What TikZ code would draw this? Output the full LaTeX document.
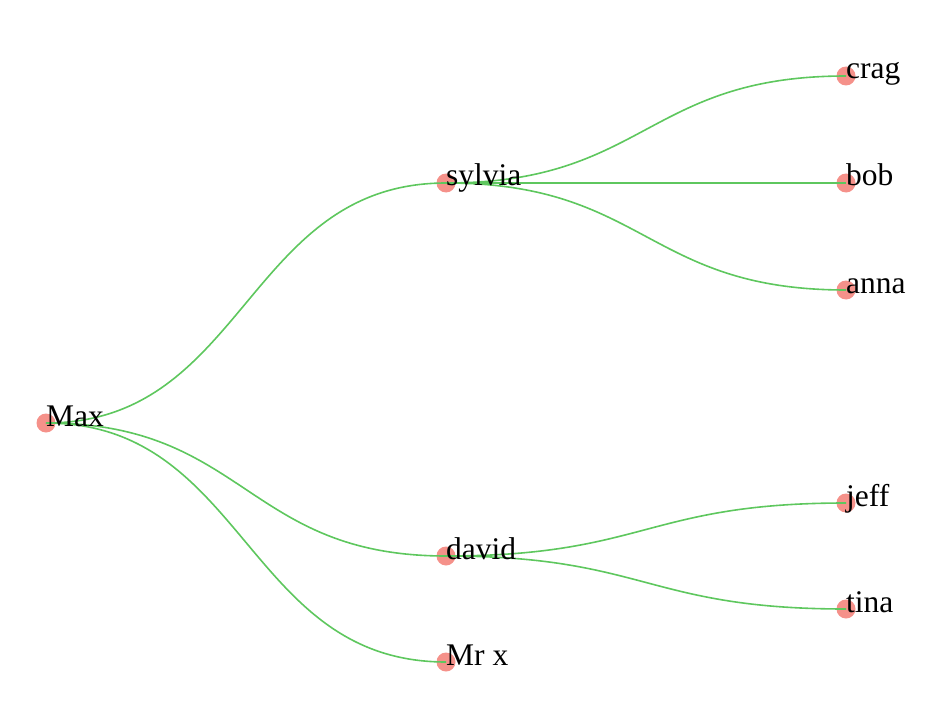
\documentclass[tikz,border=0pt]{standalone}
\usepackage{fontspec}
\setmainfont{Liberation Serif}
\definecolor{dotc}{HTML}{F5918A}
\definecolor{linkc}{HTML}{5EC75E}
\begin{document}
\begin{tikzpicture}[x=1bp,y=-1bp,
  dot/.style={circle,fill=dotc,draw=none,minimum size=19bp,inner sep=0pt},
  link/.style={draw=linkc,line width=1.6bp},
  lbl/.style={anchor=base west,inner sep=0pt,yshift=-3bp,font=\fontsize{31.5bp}{36bp}\selectfont}]
\useasboundingbox (0,0) rectangle (942,712);
% nodes
\node[dot] (max) at (46,423) {};
\node[dot] (sylvia) at (446,183) {};
\node[dot] (david) at (446,556) {};
\node[dot] (mrx) at (446,662) {};
\node[dot] (crag) at (846,76) {};
\node[dot] (bob) at (846,183) {};
\node[dot] (anna) at (846,290) {};
\node[dot] (jeff) at (846,503) {};
\node[dot] (tina) at (846,609) {};
% links
\draw[link] (max.center) .. controls (246,423) and (246,183) .. (sylvia.center);
\draw[link] (max.center) .. controls (246,423) and (246,556) .. (david.center);
\draw[link] (max.center) .. controls (246,423) and (246,662) .. (mrx.center);
\draw[link] (sylvia.center) .. controls (646,183) and (646,76) .. (crag.center);
\draw[link] (sylvia.center) .. controls (646,183) and (646,183) .. (bob.center);
\draw[link] (sylvia.center) .. controls (646,183) and (646,290) .. (anna.center);
\draw[link] (david.center) .. controls (646,556) and (646,503) .. (jeff.center);
\draw[link] (david.center) .. controls (646,556) and (646,609) .. (tina.center);
% labels
\node[lbl] (tmax) at (max.center) {Max};
\node[lbl] (tsylvia) at (sylvia.center) {sylvia};
\node[lbl] (tdavid) at (david.center) {david};
\node[lbl] (tmrx) at (mrx.center) {Mr x};
\node[lbl] (tcrag) at (crag.center) {crag};
\node[lbl] (tbob) at (bob.center) {bob};
\node[lbl] (tanna) at (anna.center) {anna};
\node[lbl] (tjeff) at (jeff.center) {jeff};
\node[lbl] (ttina) at (tina.center) {tina};
\end{tikzpicture}
\end{document}
